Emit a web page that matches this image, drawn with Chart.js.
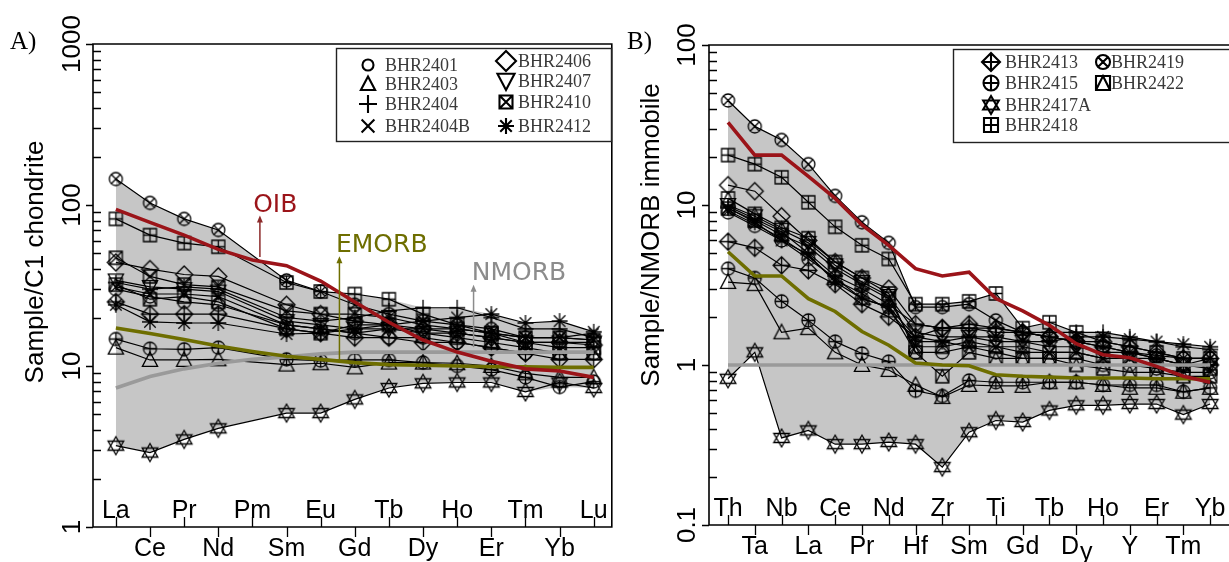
<!DOCTYPE html>
<html><head><meta charset="utf-8">
<script src="https://cdn.jsdelivr.net/npm/chart.js@4"></script>
<style>
html,body{margin:0;padding:0;width:1229px;height:562px;overflow:hidden;background:#fff;}
#ca{position:absolute;left:0;top:0;}
#cb{position:absolute;left:620px;top:0;}
</style></head><body>
<canvas id="ca" width="620" height="562"></canvas>
<canvas id="cb" width="638" height="562"></canvas>
<script>
// ---------- categories & tick labels ----------
const reeLabels = ['La','Ce','Pr','Nd','Pm','Sm','Eu','Gd','Tb','Dy','Ho','Er','Tm','Yb','Lu'];
const spiderLabels = ['Th','Ta','Nb','La','Ce','Pr','Nd','Hf','Zr','Sm','Ti','Gd','Tb','Dy','Ho','Y','Er','Tm','Yb'];
const yTicksA = ['1','10','100','1000'];
const yTicksB = ['0.1','1','10','100'];
const sampleNames = ['BHR2401','BHR2403','BHR2404','BHR2404B','BHR2406','BHR2407','BHR2410','BHR2412','BHR2413','BHR2415','BHR2417A','BHR2418','BHR2419','BHR2422'];

// ---------- Panel A: chondrite-normalised REE ----------
const reeBHR2401  = [30, 27, 25, 24, null, 18, 17, 16, 15, 15, 14, 13, 12, 12, 12];
const reeBHR2403  = [13, 10.9, 10.9, 11, null, 10.2, 10.4, 9.8, 10.5, 10.5, 10.4, 10, 9, 8.5, 8.5];
const reeBHR2404  = [33, 30, 31, 30, null, 20, 19, 20, 22, 23, 23, 20, 17, 17, 15];
const reeBHR2404B = [31, 28, 28, 27, null, 18, 17, 16, 17, 17, 17, 16, 15, 15, 16];
const reeBHR2406  = [44, 40, 37, 36, null, 24, 21, 19, 18, 17, 16, 15, 14, 14, 13.5];
const reeBHR2407  = [34, 31, 30, 29, null, 19, 18, 17, 17, 16, 16, 15, 14, 14, 14];
const reeBHR2410  = [47, 36, 32, 31, null, 22, 21, 21, 20, 18, 17, 16, 15, 15, 14.5];
const reeBHR2412  = [24, 18.8, 18.5, 18.5, null, 15.8, 16, 17, 18, 19, 20, 21, 18.5, 19, 16.3];
const reeBHR2413  = [25, 21, 21, 21, null, 17, 16, 15, 15, 14, 14, 13, 12, 11, 11];
const reeBHR2415  = [14.7, 12.8, 12.7, 13, null, 11, 10.8, 10.9, 10.9, 10.5, 10, 9.5, 8.5, 7.4, 8];
const reeBHR2417A = [3.2, 2.9, 3.5, 4.1, null, 5.1, 5.1, 6.2, 7.3, 7.8, 7.9, 7.9, 6.9, 7.9, 7.3];
const reeBHR2418  = [82, 65, 58, 55, null, 33, 29, 28, 26, 21, 18, 16, 14, 13, 13];
const reeBHR2419  = [145, 103, 82, 70, null, 34, 29, 24, 21, 19, 18, 17, 15, 15, 14.5];
const reeBHR2422  = [32, 26, 27, 25, null, 17, 16, 18, 18, 16, 15, 14, 13, 12, 12];
const reeOIB   = [94, 78, 65, 53, 45.5, 42, 33.7, 25, 18.7, 14.5, 12.2, 10.7, 9.6, 9.3, 8.5];
const reeEMORB = [17.2, 15.9, 14.6, 13.3, 12.3, 11.5, 11.0, 10.5, 10.2, 10.1, 10.0, 9.9, 9.9, 9.8, 9.8];
const reeNMORB = [7.3, 8.6, 9.6, 10.4, 11.0, 11.4, 11.9, 12.2, 12.2, 12.2, 12.2, 12.2, 12.2, 12.2, 12.2];

// ---------- Panel B: NMORB-normalised immobile elements ----------
const spBHR2401  = [9.0, 7.4, 6.0, 4.6, 3.5, 2.6, 2.3, 1.2, 1.2, 1.3, 1.2, 1.1, 1.1, 1.1, 1.0, 1.0, 0.95, 0.9, 0.9];
const spBHR2403  = [3.3, 3.2, 1.6, 1.7, 1.2, 1.0, 0.93, 0.75, 0.63, 0.75, 0.74, 0.74, 0.78, 0.78, 0.75, 0.72, 0.72, 0.68, 0.72];
const spBHR2404  = [9.8, 8.2, 6.8, 5.0, 3.6, 3.0, 2.4, 1.8, 1.7, 1.7, 1.7, 1.6, 1.6, 1.6, 1.6, 1.5, 1.4, 1.3, 1.25];
const spBHR2404B = [9.2, 7.6, 6.2, 4.8, 3.4, 2.8, 2.2, 1.4, 1.4, 1.3, 1.3, 1.2, 1.2, 1.2, 1.1, 1.1, 1.1, 1.0, 1.1];
const spBHR2406  = [13.3, 12.2, 8.5, 6.0, 4.4, 3.5, 3.0, 1.8, 1.7, 1.7, 1.6, 1.6, 1.5, 1.4, 1.4, 1.3, 1.2, 1.1, 1.1];
const spBHR2407  = [10, 8.5, 7.0, 5.8, 4.2, 3.3, 2.7, 1.6, 1.5, 1.5, 1.4, 1.4, 1.3, 1.3, 1.2, 1.2, 1.1, 1.0, 1.0];
const spBHR2410  = [9.5, 8.0, 6.5, 5.5, 4.0, 3.2, 2.6, 1.3, 1.3, 1.4, 1.3, 1.3, 1.2, 1.2, 1.1, 1.1, 1.0, 1.0, 0.95];
const spBHR2412  = [9.6, 7.8, 6.0, 4.9, 3.3, 2.6, 2.3, 1.5, 1.4, 1.5, 1.5, 1.4, 1.4, 1.5, 1.5, 1.45, 1.4, 1.35, 1.3];
const spBHR2413  = [5.9, 5.4, 4.2, 3.9, 3.2, 2.4, 2.0, 1.5, 1.7, 1.8, 1.7, 1.6, 1.5, 1.4, 1.3, 1.2, 1.1, 1.0, 1.0];
const spBHR2415  = [4.0, 3.5, 2.5, 1.9, 1.4, 1.18, 1.05, 0.69, 0.64, 0.8, 0.78, 0.78, 0.78, 0.78, 0.75, 0.75, 0.75, 0.68, 0.72];
const spBHR2417A = [0.82, 1.2, 0.35, 0.39, 0.32, 0.32, 0.33, 0.32, 0.23, 0.38, 0.45, 0.44, 0.52, 0.56, 0.56, 0.57, 0.57, 0.49, 0.57];
const spBHR2418  = [20.5, 18, 14.9, 10.4, 7.3, 5.6, 4.6, 2.4, 2.4, 2.5, 2.8, 1.7, 1.85, 1.6, 1.4, 1.3, 1.2, 1.1, 1.1];
const spBHR2419  = [45, 31, 25.5, 18, 11.4, 7.8, 5.8, 2.3, 2.3, 2.4, 1.9, 1.6, 1.5, 1.4, 1.3, 1.2, 1.15, 1.1, 1.1];
const spBHR2422  = [11, 8.8, 7.2, 6.2, 4.4, 3.5, 2.8, 1.2, 0.85, 1.2, 1.1, 1.1, 1.1, 1.0, 0.95, 0.9, 0.9, 0.85, 0.85];
const spOIB   = [32.8, 20.5, 20.5, 15.1, 11.0, 7.5, 5.6, 4.0, 3.6, 3.8, 2.6, 2.18, 1.77, 1.36, 1.16, 1.11, 0.98, 0.85, 0.78];
const spEMORB = [5.1, 3.6, 3.6, 2.6, 2.16, 1.62, 1.33, 1.03, 1.0, 0.99, 0.87, 0.85, 0.84, 0.83, 0.83, 0.83, 0.82, 0.82, 0.82];
const spNMORB = [1, 1, 1, 1, 1, 1, 1, 1, 1, 1, 1, 1, 1, 1, 1, 1, 1, 1, 1];

const reeSamples = [reeBHR2401, reeBHR2403, reeBHR2404, reeBHR2404B, reeBHR2406, reeBHR2407, reeBHR2410, reeBHR2412, reeBHR2413, reeBHR2415, reeBHR2417A, reeBHR2418, reeBHR2419, reeBHR2422];
const spSamples = [spBHR2401, spBHR2403, spBHR2404, spBHR2404B, spBHR2406, spBHR2407, spBHR2410, spBHR2412, spBHR2413, spBHR2415, spBHR2417A, spBHR2418, spBHR2419, spBHR2422];

// ---------- styles ----------
const sampleSymbols = ['circle','triangle','plus','cross','diamond','invTriangle','boxX','asterisk','diamondPlus','circlePlus','starDavid','boxPlus','circleX','boxTri'];
const symSize = {circle:6.5,triangle:8,plus:8,cross:6,diamond:8.5,invTriangle:8,boxX:6.5,asterisk:8,diamondPlus:8.5,circlePlus:6.5,starDavid:9,boxPlus:6.5,circleX:6.5,boxTri:6.5};

function drawSym(ctx,type,cx,cy,r,lw){
  ctx.save(); ctx.strokeStyle='#000'; ctx.lineWidth=lw; ctx.lineJoin='miter'; ctx.beginPath();
  const M=(x,y)=>ctx.moveTo(cx+x,cy+y), T=(x,y)=>ctx.lineTo(cx+x,cy+y);
  const circ=()=>{M(r,0);ctx.arc(cx,cy,r,0,2*Math.PI);};
  const box=()=>{ctx.rect(cx-r,cy-r,2*r,2*r);};
  const dia=()=>{M(0,-r);T(r,0);T(0,r);T(-r,0);ctx.closePath();};
  const plus=(a)=>{M(-a,0);T(a,0);M(0,-a);T(0,a);};
  const xx=(a)=>{M(-a,-a);T(a,a);M(a,-a);T(-a,a);};
  switch(type){
    case 'circle':circ();break;
    case 'triangle':M(0,-r);T(r*0.95,r*0.8);T(-r*0.95,r*0.8);ctx.closePath();break;
    case 'plus':plus(r);break;
    case 'cross':xx(r*0.8);break;
    case 'diamond':dia();break;
    case 'invTriangle':M(0,r);T(r*0.95,-r*0.8);T(-r*0.95,-r*0.8);ctx.closePath();break;
    case 'boxX':box();xx(r);break;
    case 'asterisk':plus(r);xx(r*0.72);break;
    case 'diamondPlus':dia();plus(r);break;
    case 'circlePlus':circ();plus(r);break;
    case 'starDavid':{const b=r*0.87,c=r*0.5;M(0,-r);T(b,c);T(-b,c);ctx.closePath();M(0,r);T(b,-c);T(-b,-c);ctx.closePath();break;}
    case 'boxPlus':box();plus(r);break;
    case 'circleX':circ();xx(r*0.72);break;
    case 'boxTri':box();M(-r,r);T(0,-r);T(r,r);break;
  }
  ctx.stroke(); ctx.restore();
}
function symCanvas(type){
  const r=symSize[type], s=Math.ceil(2*r+6);
  const c=document.createElement('canvas'); c.width=s; c.height=s;
  drawSym(c.getContext('2d'),type,s/2,s/2,r,1.3);
  return c;
}
const pts=(arr)=>arr.map((v,i)=>v==null?null:{x:i,y:v}).filter(p=>p);
function envelope(list,fn){
  return list[0].map((_,i)=>{const vals=list.map(a=>a[i]).filter(v=>v!=null);return vals.length?fn(...vals):null;});
}
function buildDatasets(samples,oib,emorb,nmorb){
  const ds=[];
  ds.push({label:'OIB',data:pts(oib),borderColor:'#9b1419',borderWidth:3.6,pointRadius:0,fill:false,order:0});
  ds.push({label:'EMORB',data:pts(emorb),borderColor:'#6e6e00',borderWidth:3.6,pointRadius:0,fill:false,order:0});
  ds.push({label:'NMORB',data:pts(nmorb),borderColor:'#9a9a9a',borderWidth:3.6,pointRadius:0,fill:false,order:0});
  samples.forEach((arr,k)=>{
    ds.push({label:sampleNames[k],data:pts(arr),borderColor:'#000',borderWidth:1.2,pointStyle:symCanvas(sampleSymbols[k]),pointRadius:7,fill:false,order:1});
  });
  ds.push({label:'max',data:pts(envelope(samples,Math.max)),borderColor:'rgba(0,0,0,0)',borderWidth:1,pointRadius:0,fill:'+1',backgroundColor:'#c6c6c6',order:2});
  ds.push({label:'min',data:pts(envelope(samples,Math.min)),borderColor:'rgba(0,0,0,0)',borderWidth:1,pointRadius:0,fill:false,order:2});
  return ds;
}

function makeDecor(cfg){
  return {id:'decor'+cfg.id, afterDraw(chart){
    const ctx=chart.ctx, ca=chart.chartArea, xs=chart.scales.x, ys=chart.scales.y;
    ctx.save();
    ctx.strokeStyle='#000'; ctx.lineWidth=1.6; ctx.beginPath();
    if(cfg.closed){ctx.rect(ca.left,ca.top,ca.right-ca.left,ca.bottom-ca.top);}
    else{ctx.moveTo(ca.right+20,ca.top);ctx.lineTo(ca.left,ca.top);ctx.lineTo(ca.left,ca.bottom);ctx.lineTo(ca.right+20,ca.bottom);}
    ctx.stroke();
    ctx.lineWidth=1.3; ctx.beginPath();
    for(let e=cfg.eMin;e<=cfg.eMax;e++){
      const y=Math.round(ys.getPixelForValue(Math.pow(10,e)))+0.5;
      ctx.moveTo(ca.left-7,y);ctx.lineTo(ca.left,y);
      if(e<cfg.eMax){for(let k=2;k<=9;k++){const yy=Math.round(ys.getPixelForValue(k*Math.pow(10,e)))+0.5;ctx.moveTo(ca.left,yy);ctx.lineTo(ca.left+8,yy);}}
    }
    ctx.stroke();
    ctx.fillStyle='#000'; ctx.font='26px "Liberation Sans", Arial, sans-serif';
    ctx.textAlign='center'; ctx.textBaseline='middle';
    cfg.yTicks.forEach((t,j)=>{
      const y=ys.getPixelForValue(Math.pow(10,cfg.eMin+j));
      ctx.save();ctx.translate(cfg.yLabelX,y);ctx.rotate(-Math.PI/2);ctx.fillText(t,0,0);ctx.restore();
    });
    ctx.save();ctx.translate(cfg.titleX,cfg.titleY);ctx.rotate(-Math.PI/2);ctx.font='26px "Liberation Sans", Arial, sans-serif';ctx.fillText(cfg.title,0,0);ctx.restore();
    ctx.font='25px "Liberation Sans", Arial, sans-serif'; ctx.textBaseline='alphabetic';
    ctx.beginPath();
    cfg.xLabels.forEach((lab,i)=>{
      const x=Math.round(xs.getPixelForValue(i))+0.5;
      if(i%2===0){ctx.moveTo(x,ca.bottom);ctx.lineTo(x,ca.bottom-10);}
      else{ctx.moveTo(x,ca.bottom);ctx.lineTo(x,ca.bottom+10);}
    });
    ctx.stroke();
    cfg.xLabels.forEach((lab,i)=>{
      const x=xs.getPixelForValue(i);
      const y=(i%2===0)?ca.bottom-9:ca.bottom+29;
      if(cfg.dropY && lab==='Dy'){
        const wD=ctx.measureText('D').width, wy=ctx.measureText('y').width, x0=x-(wD+wy)/2;
        ctx.textAlign='left';ctx.fillText('D',x0,y);ctx.fillText('y',x0+wD+1,y+6);ctx.textAlign='center';
      } else ctx.fillText(lab,x,y);
    });
    (cfg.annotations||[]).forEach(a=>{
      const ax=xs.getPixelForValue(a.x), y0=ys.getPixelForValue(a.y0), y1=ys.getPixelForValue(a.y1);
      ctx.strokeStyle=a.color;ctx.fillStyle=a.color;ctx.lineWidth=1.5;
      ctx.beginPath();ctx.moveTo(ax,y0);ctx.lineTo(ax,y1+5);ctx.stroke();
      ctx.beginPath();ctx.moveTo(ax,y1);ctx.lineTo(ax-3,y1+7);ctx.lineTo(ax+3,y1+7);ctx.closePath();ctx.fill();
      ctx.font='25px "DejaVu Sans", Verdana, sans-serif';ctx.fillStyle=a.textColor;
      ctx.fillText(a.text,xs.getPixelForValue(a.tx),ys.getPixelForValue(a.ty));
    });
    const L=cfg.legend;
    ctx.fillStyle='#fff';ctx.fillRect(L.box[0],L.box[1],L.box[2],L.box[3]);
    ctx.strokeStyle='#222';ctx.lineWidth=1.4;ctx.strokeRect(L.box[0]+0.5,L.box[1]+0.5,L.box[2],L.box[3]);
    ctx.font='18px "Liberation Serif", "Times New Roman", serif';ctx.textAlign='left';ctx.textBaseline='middle';ctx.fillStyle='#3a3a3a';
    L.items.forEach(it=>{
      drawSym(ctx,sampleSymbols[sampleNames.indexOf(it.name)],it.sx,it.sy,it.r,2.1);
      ctx.fillText(it.name,it.tx,it.sy+1);
    });
    ctx.fillStyle='#000';ctx.font='25px "Liberation Serif", "Times New Roman", serif';ctx.textBaseline='alphabetic';
    ctx.fillText(cfg.letter,cfg.letterX,49);
    ctx.restore();
  }};
}

const commonOpts=(pad,xmin,xmax,ymin,ymax)=>({
  responsive:false,animation:false,devicePixelRatio:1,
  layout:{padding:pad},
  scales:{x:{type:'linear',min:xmin,max:xmax,display:false},y:{type:'logarithmic',min:ymin,max:ymax,display:false}},
  plugins:{legend:{display:false},tooltip:{enabled:false}},
  elements:{line:{tension:0}}
});

new Chart(document.getElementById('ca'),{
  type:'line',
  data:{datasets:buildDatasets(reeSamples,reeOIB,reeEMORB,reeNMORB)},
  options:commonOpts({left:93,top:44,right:5,bottom:35},-0.67,14.53,1,1000),
  plugins:[makeDecor({id:'A',closed:true,eMin:0,eMax:3,yTicks:yTicksA,yLabelX:73,title:'Sample/C1 chondrite',titleX:36,titleY:262,
    xLabels:reeLabels,letter:'A)',letterX:10,
    annotations:[
      {text:'OIB',color:'#8c2a2a',textColor:'#9b1419',x:4.22,y0:47.5,y1:86,tx:4.67,ty:90.5},
      {text:'EMORB',color:'#6e6e00',textColor:'#6e6e00',x:6.55,y0:10.9,y1:48,tx:7.79,ty:51},
      {text:'NMORB',color:'#8c8c8c',textColor:'#8c8c8c',x:10.48,y0:13.1,y1:32,tx:11.81,ty:34.2}
    ],
    legend:{box:[336,48,275,93],items:[
      {name:'BHR2401',sx:368,sy:65,r:5.5,tx:385},
      {name:'BHR2403',sx:368,sy:84,r:7.5,tx:385},
      {name:'BHR2404',sx:368,sy:104,r:9,tx:385},
      {name:'BHR2404B',sx:368,sy:126,r:8,tx:385},
      {name:'BHR2406',sx:506,sy:61,r:10,tx:518},
      {name:'BHR2407',sx:506,sy:81,r:9,tx:518},
      {name:'BHR2410',sx:506,sy:102,r:6.5,tx:518},
      {name:'BHR2412',sx:506,sy:126,r:8,tx:518}
    ]}})]
});

new Chart(document.getElementById('cb'),{
  type:'line',
  data:{datasets:buildDatasets(spSamples,spOIB,spEMORB,spNMORB)},
  options:commonOpts({left:89,top:45,right:8,bottom:37},-0.71,19.48,0.1,100),
  plugins:[makeDecor({id:'B',closed:false,eMin:-1,eMax:2,yTicks:yTicksB,yLabelX:68,title:'Sample/NMORB immobile',titleX:32,titleY:235,
    xLabels:spiderLabels,letter:'B)',letterX:7,dropY:true,
    legend:{box:[333,49,320,93],items:[
      {name:'BHR2413',sx:371,sy:62,r:9,tx:385},
      {name:'BHR2415',sx:371,sy:83,r:7.5,tx:385},
      {name:'BHR2417A',sx:371,sy:105,r:9,tx:385},
      {name:'BHR2418',sx:371,sy:125,r:7,tx:385},
      {name:'BHR2419',sx:483,sy:62,r:7,tx:491},
      {name:'BHR2422',sx:483,sy:83,r:7,tx:491}
    ]}})]
});
</script>
</body></html>
